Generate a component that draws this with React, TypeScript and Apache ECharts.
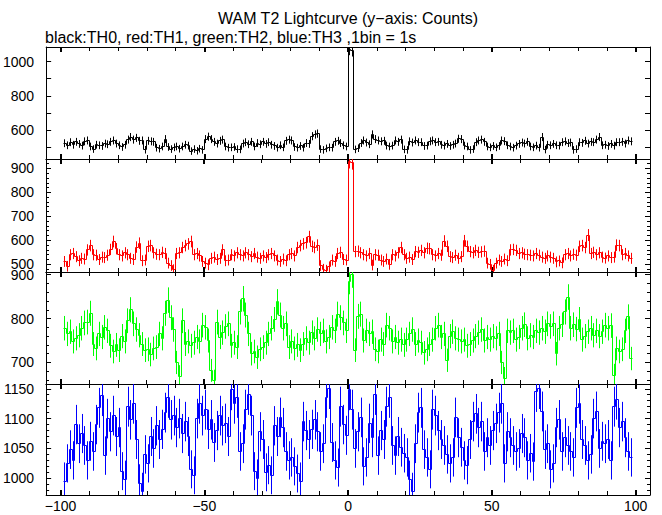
import React, { useEffect, useRef } from "react";
import * as echarts from "echarts";

// left edge of the first 1 s bin; bin i covers [FIRST_BIN + i, FIRST_BIN + i + 1]
const FIRST_BIN = -99;

// TH0 (black) counts per 1 s bin, t = -99 .. 98
const TH0 = [
  524, 512, 530, 515, 532, 520, 510, 535, 540,
  505, 490, 515, 512, 508, 522, 518, 532, 540, 522,
  512, 502, 515, 545, 560, 545, 555, 538, 540, 486,
  538, 535, 532, 498, 492, 505, 548, 502, 490, 500,
  505, 492, 505, 515, 510, 478, 490, 480, 492, 485,
  548, 562, 548, 532, 522, 538, 545, 505, 498, 500,
  502, 490, 488, 522, 530, 518, 532, 505, 525, 518,
  532, 520, 530, 515, 508, 498, 512, 500, 538, 545,
  540, 502, 498, 508, 498, 525, 520, 565, 575, 580,
  490, 485, 494, 500, 498, 532, 538, 525, 512, 505,
  1070, 1062, 488, 495, 525, 540, 528, 518, 575, 548,
  540, 535, 538, 510, 505, 510, 540, 532, 545, 488,
  485, 535, 528, 540, 530, 530, 508, 510, 535, 540,
  530, 532, 515, 510, 520, 508, 515, 522, 550, 548,
  510, 505, 485, 490, 530, 540, 545, 532, 505, 500,
  508, 500, 508, 540, 536, 512, 505, 498, 510, 520,
  528, 522, 532, 505, 500, 510, 498, 560, 487, 515,
  512, 520, 512, 510, 530, 535, 525, 528, 485, 490,
  530, 526, 538, 522, 532, 530, 545, 560, 512, 515,
  508, 520, 510, 530, 530, 532, 522, 540, 535,
];

// TH1 (red)
const TH1 = [
  512, 492, 540, 545, 532, 515, 525, 522, 560,
  578, 540, 538, 520, 530, 528, 538, 562, 595, 565,
  540, 535, 548, 540, 525, 520, 572, 588, 515, 518,
  575, 578, 548, 542, 540, 550, 545, 505, 495, 478,
  545, 548, 570, 578, 585, 595, 540, 545, 535, 512,
  505, 498, 525, 530, 520, 525, 560, 515, 518, 540,
  535, 548, 540, 535, 548, 540, 532, 545, 530, 525,
  535, 528, 540, 545, 535, 518, 512, 522, 515, 540,
  545, 535, 570, 578, 585, 590, 615, 575, 570, 580,
  495, 480, 476, 490, 518, 512, 545, 550, 520, 518,
  930, 925, 553, 555, 548, 540, 535, 545, 497, 540,
  538, 518, 512, 522, 500, 540, 535, 548, 570, 540,
  525, 530, 520, 553, 550, 558, 548, 567, 565, 540,
  535, 545, 538, 597, 575, 532, 528, 538, 525, 532,
  598, 575, 553, 548, 558, 550, 552, 555, 505, 500,
  476, 505, 518, 512, 522, 515, 560, 562, 558, 545,
  548, 542, 540, 538, 535, 545, 538, 530, 525, 535,
  530, 525, 510, 514, 506, 540, 545, 535, 542, 538,
  575, 578, 570, 622, 545, 550, 540, 548, 530, 526,
  535, 528, 530, 580, 578, 540, 545, 535, 525,
];

// TH2 (green)
const TH2 = [
  778, 765, 770, 748, 755, 762, 778, 790, 792,
  812, 742, 732, 765, 758, 780, 772, 738, 725, 740,
  728, 760, 748, 795, 820, 788, 775, 762, 742, 728,
  730, 718, 732, 735, 765, 755, 812, 842, 802, 775,
  700, 668, 795, 742, 748, 738, 745, 758, 748, 785,
  780, 750, 682, 658, 792, 758, 768, 782, 788, 738,
  745, 735, 815, 845, 808, 765, 720, 725, 712, 730,
  735, 745, 765, 778, 798, 838, 808, 778, 788, 735,
  748, 732, 740, 728, 742, 755, 745, 768, 755, 775,
  765, 772, 748, 758, 780, 772, 810, 802, 790, 772,
  885, 900, 728, 805, 810, 750, 772, 765, 770, 730,
  725, 752, 742, 785, 778, 748, 758, 745, 752, 740,
  752, 765, 775, 742, 750, 745, 722, 730, 742, 752,
  778, 785, 758, 765, 705, 760, 770, 755, 752, 748,
  752, 738, 742, 750, 760, 768, 775, 750, 758, 752,
  760, 755, 765, 700, 664, 772, 768, 772, 752, 758,
  778, 786, 755, 762, 758, 772, 768, 778, 770, 788,
  782, 788, 720, 778, 786, 815, 849, 778, 786, 776,
  798, 752, 760, 770, 778, 762, 772, 760, 770, 785,
  778, 784, 671, 732, 725, 730, 772, 804, 709,
];

// TH3 (blue)
const TH3 = [
  995, 1025, 1048, 1030, 1090, 1058, 1075, 1055, 1030,
  1062, 1045, 1090, 1118, 1138, 1038, 1100, 1078, 1105, 1070,
  1085, 1012, 998, 1120, 1098, 1125, 1065, 992, 978, 1040,
  1025, 1070, 1050, 1088, 1065, 1082, 1110, 1135, 1098, 1105,
  1085, 1100, 1075, 1095, 1070, 1015, 1005, 1100, 1125, 1105,
  1115, 1082, 1098, 1060, 1080, 1105, 1088, 1092, 1070, 1148,
  1125, 1135, 1045, 1058, 1115, 1140, 1105, 1012, 1000, 1078,
  1065, 1010, 1022, 1005, 1088, 1070, 1102, 1085, 1045, 1030,
  1035, 1020, 1008, 995, 1095, 1080, 1065, 1082, 1098, 1078,
  1045, 1058, 1135, 1150, 1060, 1030, 1018, 1120, 1090, 1072,
  1148, 1115, 1050, 1078, 1102, 1020, 1035, 1092, 1068, 1140,
  1038, 1080, 1065, 1120, 1135, 1055, 1038, 1070, 1052, 1042,
  1035, 998, 978, 1058, 1110, 1118, 1048, 1035, 1015, 1115,
  1105, 1080, 1065, 1055, 1040, 1025, 1035, 1102, 1068, 1052,
  1030, 1022, 1065, 1095, 1108, 1085, 1095, 1045, 1068, 1055,
  1080, 1092, 1110, 1125, 1025, 1078, 1068, 1055, 1045, 1050,
  1075, 1068, 1030, 1042, 1028, 1145, 1150, 1112, 1048, 1058,
  1015, 1025, 1085, 1098, 1045, 1068, 1055, 1045, 1035, 1118,
  1125, 1065, 1055, 1030, 1040, 1100, 1112, 1050, 1062, 1058,
  1065, 1030, 1120, 1132, 1085, 1095, 1068, 1045, 1035,
];

const X_LABELS = [-100, -50, 0, 50, 100];
const X_MINOR = [-90, -80, -70, -60, -40, -30, -20, -10, 10, 20, 30, 40, 60, 70, 80, 90];

const Y_LABELS_0 = [600, 800, 1000];
const Y_LABELS_1 = [500, 600, 700, 800, 900];
const Y_LABELS_2 = [700, 800, 900];
const Y_LABELS_3 = [1000, 1050, 1100, 1150];

const TITLE = "WAM T2 Lightcurve (y\u2212axis: Counts)";
const SUBTITLE = "black:TH0, red:TH1, green:TH2, blue:TH3 ,1bin = 1s";

const FONT = '"Liberation Sans", Arial, Helvetica, sans-serif';

function range(a: number, b: number, step: number, skip?: number) {
  const out: number[] = [];
  for (let v = a; v <= b + 1e-9; v += step) {
    if (skip && Math.abs(v % skip) < 1e-9) continue;
    out.push(v);
  }
  return out;
}

const PANELS = [
  { data: TH0, color: "#000000", min: 432, max: 1085, labels: Y_LABELS_0, major: range(500, 1000, 100), minor: [] as number[], top: 47, height: 112 },
  { data: TH1, color: "#ff0000", min: 468, max: 939, labels: Y_LABELS_1, major: Y_LABELS_1, minor: range(480, 920, 20, 100), top: 159, height: 113 },
  { data: TH2, color: "#00ff00", min: 651, max: 906, labels: Y_LABELS_2, major: Y_LABELS_2, minor: range(660, 900, 20, 100), top: 272, height: 112 },
  { data: TH3, color: "#0000ff", min: 972, max: 1158, labels: Y_LABELS_3, major: Y_LABELS_3, minor: range(980, 1150, 10, 50), top: 384, height: 111 },
];

const fmtMinus = (v: number) => (v < 0 ? "\u2212" + Math.abs(v) : String(v));
const fmtPlain = (v: number) => String(v);
const crisp = (v: number) => Math.round(v - 0.5) + 0.5;

export default function App() {
  const ref = useRef<HTMLDivElement>(null);

  useEffect(() => {
    if (!ref.current) return;
    const chart = echarts.init(ref.current, null, { renderer: "svg" });

    const grids: any[] = [];
    const xAxes: any[] = [];
    const yAxes: any[] = [];
    const series: any[] = [];

    PANELS.forEach((p, g) => {
      grids.push({ left: 46, right: 12, top: p.top, height: p.height, containLabel: false });
      const isBottom = g === PANELS.length - 1;
      const xBase = {
        type: "value",
        gridIndex: g,
        min: -105,
        max: 105,
        splitLine: { show: false },
        axisPointer: { show: false },
      };
      const lineOn = { show: true, onZero: false, lineStyle: { color: "#000", width: 1 } };
      const lineOff = { show: false, onZero: false };
      const xMajorTick = { show: true, inside: true, length: 5, customValues: X_LABELS, lineStyle: { color: "#000", width: 2 } };
      const xMinorTick = { show: true, inside: true, length: 4, customValues: X_MINOR, lineStyle: { color: "#000", width: 1 } };
      xAxes.push({
        ...xBase,
        position: "bottom",
        axisLine: lineOn,
        axisTick: xMajorTick,
        axisLabel: {
          show: isBottom,
          customValues: X_LABELS,
          formatter: fmtMinus,
          fontSize: 14,
          fontFamily: FONT,
          color: "#000",
          margin: 4,
        },
      });
      xAxes.push({ ...xBase, position: "bottom", axisLine: lineOff, axisTick: xMinorTick, axisLabel: { show: false } });
      xAxes.push({ ...xBase, position: "top", axisLine: lineOn, axisTick: xMajorTick, axisLabel: { show: false } });
      xAxes.push({ ...xBase, position: "top", axisLine: lineOff, axisTick: xMinorTick, axisLabel: { show: false } });

      const yBase = {
        type: "value",
        gridIndex: g,
        min: p.min,
        max: p.max,
        splitLine: { show: false },
        axisPointer: { show: false },
      };
      const yMajorTick = { show: true, inside: true, length: 5, customValues: p.major, lineStyle: { color: "#000", width: 1 } };
      const yMinorTick = { show: p.minor.length > 0, inside: true, length: 3, customValues: p.minor.length ? p.minor : [p.min], lineStyle: { color: "#000", width: 1 } };
      yAxes.push({
        ...yBase,
        position: "left",
        axisLine: lineOn,
        axisTick: yMajorTick,
        axisLabel: {
          show: true,
          customValues: p.labels,
          formatter: fmtPlain,
          fontSize: 14,
          fontFamily: FONT,
          color: "#000",
          margin: 12,
        },
      });
      yAxes.push({ ...yBase, position: "left", axisLine: lineOff, axisTick: yMinorTick, axisLabel: { show: false } });
      yAxes.push({ ...yBase, position: "right", axisLine: lineOn, axisTick: yMajorTick, axisLabel: { show: false } });
      yAxes.push({ ...yBase, position: "right", axisLine: lineOff, axisTick: yMinorTick, axisLabel: { show: false } });

      const items = p.data.map((v, i) => [
        FIRST_BIN + i,
        v,
        i > 0 ? p.data[i - 1] : v,
        Math.sqrt(v),
      ]);
      const color = p.color;
      series.push({
        type: "custom",
        xAxisIndex: g * 4,
        yAxisIndex: g * 4,
        clip: true,
        silent: true,
        encode: { x: 0, y: 1 },
        data: items,
        renderItem: (params: any, api: any) => {
          const t = api.value(0) as number;
          const v = api.value(1) as number;
          const pv = api.value(2) as number;
          const e = api.value(3) as number;
          const a = api.coord([t, v]);
          const b = api.coord([t + 1, v]);
          const c = api.coord([t, pv]);
          const lo = api.coord([t + 0.5, v - e]);
          const hi = api.coord([t + 0.5, v + e]);
          const style = { stroke: color, lineWidth: 1, fill: null };
          const yv = crisp(a[1]);
          const xl = crisp(a[0]);
          const xr = crisp(b[0]);
          const xm = crisp(lo[0]);
          return {
            type: "group",
            children: [
              { type: "line", shape: { x1: xl, y1: yv, x2: xr, y2: yv }, style },
              { type: "line", shape: { x1: xl, y1: crisp(c[1]), x2: xl, y2: yv }, style },
              { type: "line", shape: { x1: xm, y1: lo[1], x2: xm, y2: hi[1] }, style },
            ],
          };
        },
      });
    });

    chart.setOption({
      animation: false,
      backgroundColor: "#ffffff",
      grid: grids,
      xAxis: xAxes,
      yAxis: yAxes,
      series,
      graphic: [
        {
          type: "text",
          x: 348,
          y: 18,
          style: {
            text: TITLE,
            font: "16px " + FONT,
            fill: "#000",
            align: "center",
            verticalAlign: "middle",
            textAlign: "center",
            textVerticalAlign: "middle",
          },
        },
        {
          type: "text",
          x: 45,
          y: 37,
          style: {
            text: SUBTITLE,
            font: "16px " + FONT,
            fill: "#000",
            align: "left",
            verticalAlign: "middle",
            textAlign: "left",
            textVerticalAlign: "middle",
          },
        },
      ],
    });

    return () => chart.dispose();
  }, []);

  return (
    <div
      ref={ref}
      style={{ position: "fixed", left: 0, top: 0, width: 662, height: 515, background: "#fff" }}
    />
  );
}
